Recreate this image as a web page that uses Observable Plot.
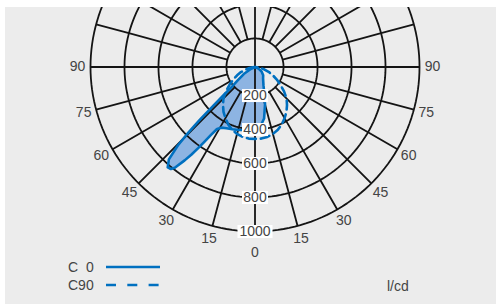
<!DOCTYPE html>
<html><head><meta charset="utf-8">
<script src="https://cdn.jsdelivr.net/npm/d3@7"></script>
<script src="https://cdn.jsdelivr.net/npm/@observablehq/plot@0.6"></script>
<style>
body{margin:0;background:#fff;font-family:"Liberation Sans",Arial,sans-serif;}
#box{position:absolute;left:5px;top:7px;width:491px;height:297px;background:#ececec;overflow:hidden;}
#chart svg{display:block;}
.leg{position:absolute;font-size:14px;line-height:16px;color:#444;white-space:pre;}
.legline{position:absolute;}
</style></head><body>
<div id="box">
<div id="chart"></div>
<div class="leg" style="left:63px;top:252px;">C&#8199;0</div>
<svg class="legline" style="left:101px;top:255px" width="56" height="10"><line x1="0" x2="54" y1="5" y2="5" stroke="#0070c0" stroke-width="2.6"/></svg>
<div class="leg" style="left:63px;top:270px;">C90</div>
<svg class="legline" style="left:101px;top:273px" width="56" height="10"><line x1="0" x2="54" y1="5" y2="5" stroke="#0070c0" stroke-width="2.6" stroke-dasharray="10 11.3"/></svg>
<div class="leg" style="left:382px;top:271px;">l/cd</div>
</div>
<script>
// angle tick labels (degrees) and intensity rings (cd/klm)
const angleTicks = [0, 15, 30, 45, 60, 75, 90];
const valueTicks = [200, 400, 600, 800, 1000];

// C0 / C180 plane: signed angle (negative = left side), intensity
const c0Angles = [-90, -75, -65, -58, -52, -49.5, -48, -47, -46.3, -45.5, -44.5, -43, -41, -39.5, -38.5, -37, -36, -35, -34, -33, -31.5, -29, -25, -20, -15, -10, -5, 0,
                  5, 10, 15, 20, 25, 35, 45, 55, 65, 75, 90];
const c0Values = [0, 30, 60, 110, 165, 210, 285, 380, 480, 580, 680, 775, 815, 810, 790, 720, 670, 615, 560, 510, 460, 440, 430, 422, 416, 408, 402, 400,
                  385, 340, 260, 190, 150, 115, 100, 80, 55, 38, 0];

// C90 plane (symmetric): angle, intensity
const c90Angles = [0, 5, 10, 15, 20, 25, 30, 35, 40, 45, 50, 55, 60, 65, 70, 75, 80, 85, 90];
const c90Values = [455, 455, 450, 440, 425, 405, 380, 355, 325, 295, 255, 215, 180, 148, 120, 90, 65, 45, 0];

const R = d3.scaleLinear([32, 1000], [0, 90]);
const lat = v => 90 - Math.max(1e-3, R(v));

const c0Ring = c0Angles.map((a, i) => [a, lat(c0Values[i])]);
c0Ring.push(c0Ring[0]);
const c90Ring = [
  ...c90Angles.map((a, i) => [-a, lat(c90Values[i])]).reverse(),
  ...c90Angles.slice(1).map((a, i) => [a, lat(c90Values[i + 1])])
];
c90Ring.push(c90Ring[0]);

const c0Line = {type: "LineString", coordinates: c0Ring};
const c90Line = {type: "LineString", coordinates: c90Ring};

const rings = valueTicks.map(v => d3.geoCircle().center([0, 90]).radius(R(v))());
const spokes = d3.range(0, 360, 15);

const angleLabels = angleTicks.flatMap(a => a === 0 ? [{lon: 0, t: "0"}] : [{lon: a, t: String(a)}, {lon: -a, t: String(a)}]);

const box3 = {draw(ctx) { ctx.rect(-13, -6.5, 26, 13); }};
const box4 = {draw(ctx) { ctx.rect(-17.5, -6.5, 35, 13); }};

const gridColor = "#141414";
const blue = "#0070c0";

const chart = Plot.plot({
  width: 491,
  height: 255,
  marginLeft: 85,
  marginRight: 77,
  marginTop: -105,
  marginBottom: 31,
  style: {background: "transparent", fontFamily: "Liberation Sans, Arial, sans-serif", fontSize: "14px"},
  projection: {
    type: "azimuthal-equidistant",
    rotate: [0, -90],
    domain: d3.geoCircle().center([0, 90]).radius(90)(),
    clip: false
  },
  marks: [
    Plot.geo([c0Line], {fill: "#8db4e2", stroke: "none"}),
    Plot.geo(rings, {fill: "none", stroke: gridColor, strokeWidth: 1.8}),
    Plot.link(spokes, {
      x1: d => d, y1: d => d % 90 === 0 ? lat(0) : lat(200),
      x2: d => d, y2: lat(1000),
      stroke: gridColor, strokeWidth: 1.8
    }),
    Plot.geo([c0Line], {fill: "none", stroke: blue, strokeWidth: 2.6, strokeLinejoin: "round"}),
    Plot.geo([c90Line], {fill: "none", stroke: blue, strokeWidth: 2.6, strokeDasharray: "9 5"}),
    Plot.dot(valueTicks.filter(v => v < 1000), {x: () => 0, y: d => lat(d), symbol: box3, fill: "white", stroke: "none"}),
    Plot.dot(valueTicks.filter(v => v >= 1000), {x: () => 0, y: d => lat(d), symbol: box4, fill: "white", stroke: "none"}),
    Plot.text(valueTicks, {x: () => 0, y: d => lat(d), text: d => String(d), fill: "#444", fontSize: 14}),
    Plot.text(angleLabels, {x: "lon", y: d => lat(d.lon === 0 ? 1124 : 1076), text: "t", fill: "#444", fontSize: 14})
  ]
});
document.getElementById("chart").appendChild(chart);
</script>
</body></html>
